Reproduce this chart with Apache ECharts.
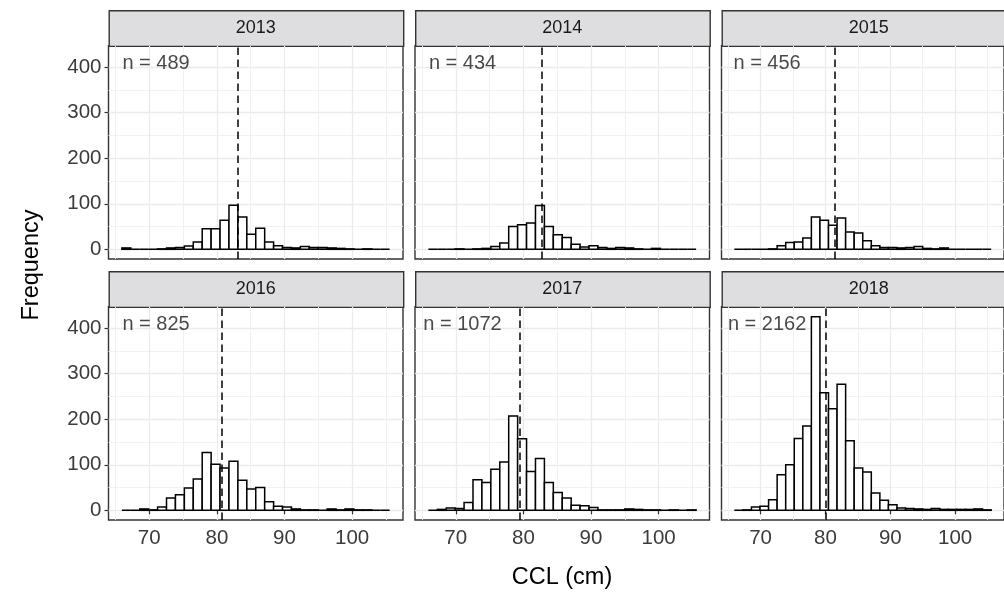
<!DOCTYPE html>
<html>
<head>
<meta charset="utf-8">
<script src="https://cdn.jsdelivr.net/npm/echarts@6/dist/echarts.min.js"></script>
<style>
  html, body { margin: 0; padding: 0; background: #fff; }
  #chart { width: 1004px; height: 593px; }
</style>
</head>
<body>
<div id="chart"></div>
<script>
// histogram bins shared by every panel (30 bins)
var binStart = 65.95
var binWidth = 1.32

var years = ['2013', '2014', '2015', '2016', '2017', '2018']
var sampleSizes = [489, 434, 456, 825, 1072, 2162]
var meanCCL = [83.07, 82.69, 81.5, 80.72, 79.52, 80.03]

var counts2013 = [3, 0, 0, 0, 1, 3, 4, 7, 16, 45, 45, 64, 97, 71, 33, 46, 16, 8, 4, 3, 6, 4, 4, 3, 2, 1, 0, 1, 0, 0]
var counts2014 = [0, 0, 0, 1, 0, 1, 2, 6, 14, 50, 54, 58, 96, 50, 32, 26, 11, 5, 8, 4, 2, 4, 3, 1, 0, 2, 0, 0, 0, 0]
var counts2015 = [0, 0, 0, 0, 1, 8, 15, 16, 25, 71, 64, 53, 69, 38, 36, 19, 8, 4, 4, 3, 4, 6, 2, 1, 3, 0, 0, 0, 0, 0]
var counts2016 = [0, 0, 3, 1, 7, 27, 34, 49, 69, 127, 101, 93, 108, 66, 47, 50, 19, 9, 7, 3, 1, 1, 0, 3, 1, 3, 1, 1, 0, 0]
var counts2017 = [0, 2, 5, 4, 17, 67, 61, 90, 106, 207, 157, 85, 114, 61, 39, 27, 11, 10, 6, 1, 1, 1, 3, 2, 1, 1, 0, 1, 0, 1]
var counts2018 = [0, 1, 7, 9, 23, 78, 100, 158, 185, 425, 258, 223, 277, 153, 93, 84, 38, 22, 12, 5, 4, 3, 2, 4, 2, 2, 2, 2, 3, 1]
var allCounts = [counts2013, counts2014, counts2015, counts2016, counts2017, counts2018]

var xTicks = [70, 80, 90, 100]
var xMinorTicks = [65, 75, 85, 95, 105]
var yTicks = [0, 100, 200, 300, 400]
var yMinorTicks = [50, 150, 250, 350, 450]

// layout
var FONT = 'Liberation Sans, Arial, Helvetica, sans-serif'
var colLeft = [108.5, 415, 721.5]
var rowTop = [45.7, 306.7]
var panelW = 294.5
var panelH = 213.3
var stripH = 35.7
var xMin = 63.97, xMax = 107.53
var yMin = -21.3, yMax = 447.3

var chart = echarts.init(document.getElementById('chart'), null, { renderer: 'canvas' })

var grids = [], xAxes = [], yAxes = [], series = [], graphics = []

years.forEach(function (yr, i) {
  var col = i % 3, row = Math.floor(i / 3)
  var left = colLeft[col], top = rowTop[row]
  grids.push({
    left: left, top: top, width: panelW, height: panelH,
    show: true, backgroundColor: '#fff', borderColor: '#333333', borderWidth: 1.4,
    containLabel: false
  })
  var bottomRow = row === 1
  var leftCol = col === 0
  // major axes
  xAxes.push({
    type: 'value', gridIndex: i, min: xMin, max: xMax,
    axisLine: { show: false },
    axisTick: { show: bottomRow, customValues: xTicks, length: 4, lineStyle: { color: '#333333', width: 1.2 } },
    axisLabel: { show: bottomRow, customValues: xTicks, margin: 8, fontSize: 20.5, color: '#3C3C3C', fontFamily: FONT },
    splitLine: { show: true, lineStyle: { color: '#EBEBEB', width: 1.3 } }
  })
  yAxes.push({
    type: 'value', gridIndex: i, min: yMin, max: yMax,
    axisLine: { show: false },
    axisTick: { show: leftCol, customValues: yTicks, length: 4, lineStyle: { color: '#333333', width: 1.2 } },
    axisLabel: { show: leftCol, customValues: yTicks, margin: 7, fontSize: 20.5, color: '#3C3C3C', fontFamily: FONT },
    splitLine: { show: true, lineStyle: { color: '#EBEBEB', width: 1.3 } }
  })
  // strip on top of the panel
  graphics.push({
    type: 'rect', left: left, top: top - stripH,
    shape: { width: panelW, height: stripH },
    style: { fill: '#DEDEE0', stroke: '#333333', lineWidth: 1.4 }
  })
  graphics.push({
    type: 'text', x: left + panelW / 2, y: top - stripH / 2,
    style: { text: yr, fill: '#1A1A1A', font: '18px ' + FONT, textAlign: 'center', textVerticalAlign: 'middle' }
  })
})

// minor gridline axes
years.forEach(function (yr, i) {
  xAxes.push({
    type: 'value', gridIndex: i, min: xMin, max: xMax,
    axisLine: { show: false }, axisLabel: { show: false },
    axisTick: { show: false, customValues: xMinorTicks },
    splitLine: { show: true, lineStyle: { color: '#EFEFEF', width: 0.9 } }
  })
  yAxes.push({
    type: 'value', gridIndex: i, min: yMin, max: yMax,
    axisLine: { show: false }, axisLabel: { show: false },
    axisTick: { show: false, customValues: yMinorTicks },
    splitLine: { show: true, lineStyle: { color: '#EFEFEF', width: 0.9 } }
  })
})

years.forEach(function (yr, i) {
  var data = allCounts[i].map(function (c, k) {
    return [binStart + k * binWidth, binStart + (k + 1) * binWidth, c]
  })
  series.push({
    type: 'custom',
    xAxisIndex: i, yAxisIndex: i,
    data: data,
    encode: { x: [0, 1], y: 2 },
    renderItem: function (params, api) {
      var p0 = api.coord([api.value(0), api.value(2)])
      var p1 = api.coord([api.value(1), 0])
      return {
        type: 'rect',
        shape: { x: p0[0], y: p0[1], width: p1[0] - p0[0], height: p1[1] - p0[1] },
        style: { fill: '#ffffff', stroke: '#000000', lineWidth: 1.5 }
      }
    },
    markLine: {
      silent: true, symbol: 'none',
      label: { show: false },
      lineStyle: { color: '#000', type: [7.5, 4.5], width: 1.5 },
      data: [{ xAxis: meanCCL[i] }]
    },
    z: 3
  })
  series.push({
    type: 'scatter',
    xAxisIndex: i, yAxisIndex: i,
    symbolSize: 1,
    itemStyle: { color: 'rgba(0,0,0,0)' },
    data: [[71, 408]],
    label: {
      show: true, position: 'inside',
      formatter: 'n = ' + sampleSizes[i],
      fontSize: 20, color: '#1A1A1A', fontFamily: FONT
    },
    z: 4
  })
})

// axis titles
graphics.push({
  type: 'text', x: 562, y: 578,
  style: { text: 'CCL (cm)', fill: '#000', font: '23.5px ' + FONT, textAlign: 'center', textVerticalAlign: 'middle' }
})
graphics.push({
  type: 'text', x: 32, y: 265, rotation: Math.PI / 2,
  style: { text: 'Frequency', fill: '#000', font: '23.5px ' + FONT, textAlign: 'center', textVerticalAlign: 'middle' }
})

chart.setOption({
  animation: false,
  backgroundColor: '#fff',
  grid: grids,
  xAxis: xAxes,
  yAxis: yAxes,
  series: series,
  graphic: graphics
})
</script>
</body>
</html>
